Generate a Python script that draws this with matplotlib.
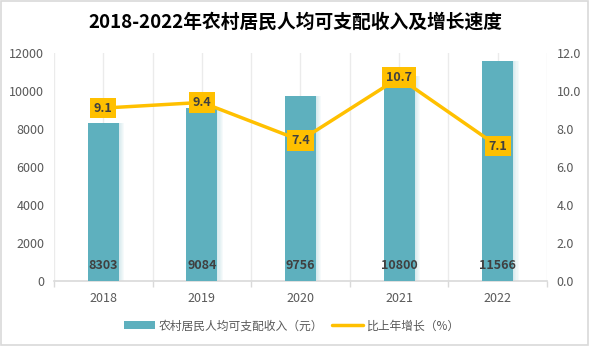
import numpy as np
import matplotlib
matplotlib.use('Agg')
import matplotlib.pyplot as plt
import matplotlib.transforms as mtransforms
from matplotlib.patches import Rectangle
from matplotlib.ticker import FuncFormatter

plt.rcParams['font.family'] = ['Noto Sans CJK SC', 'DejaVu Sans']

years = ['2018', '2019', '2020', '2021', '2022']
income = [8303, 9084, 9756, 10800, 11566]
growth = [9.1, 9.4, 7.4, 10.7, 7.1]
income_name = '农村居民人均可支配收入（元）'
growth_name = '比上年增长（%）'
title = '2018-2022年农村居民人均可支配收入及增长速度'

bar_color = '#5EB0BE'
line_color = '#FFC000'
text_gray = '#595959'
grid_gray = '#EBEBEB'

fig = plt.figure(figsize=(5.9, 3.55), dpi=100)
fig.patches.append(Rectangle((0.002, 0.028), 0.994, 0.97, transform=fig.transFigure,
                             fill=False, edgecolor='#D9D9D9', linewidth=1.2))

ax = fig.add_axes([0.0915, 0.2085, 0.8355, 0.6422])
x = np.arange(len(years))
w = 0.315

# soft shadow on the right of each bar
for k in range(1, 6):
    ax.bar(x + 0.011 * k, income, w, color=bar_color, alpha=0.05, linewidth=0, zorder=2)
ax.bar(x, income, w, color=bar_color, linewidth=0, zorder=3, label=income_name)

ax.set_xlim(-0.5, len(years) - 0.5)
ax.set_ylim(0, 12000)
ax.set_yticks(np.arange(0, 12001, 2000))
ax.set_xticks(x)
ax.set_xticklabels(years)
ax.set_xticks(np.arange(-0.5, len(years), 1.0), minor=True)
ax.tick_params(axis='x', which='major', length=0, pad=8, labelsize=9, labelcolor=text_gray)
ax.tick_params(axis='x', which='minor', length=4, color='#D9D9D9', width=1)
ax.tick_params(axis='y', length=0, pad=7, labelsize=9, labelcolor=text_gray)
ax.grid(axis='x', which='both', color=grid_gray, linewidth=1, zorder=0)
ax.set_axisbelow(True)
for s in ['top', 'left', 'right']:
    ax.spines[s].set_visible(False)
ax.spines['bottom'].set_color('#D9D9D9')
ax.spines['bottom'].set_linewidth(1.2)

trans = mtransforms.blended_transform_factory(ax.transData, ax.transAxes)
for xi, v in zip(x, income):
    ax.text(xi, 0.066, str(v), transform=trans, ha='center', va='center',
            fontsize=9, fontweight='bold', color='#404040', zorder=5)

ax2 = ax.twinx()
ax2.plot(x, growth, color=line_color, linewidth=2.5, zorder=4, label=growth_name,
         solid_capstyle='round')
ax2.set_ylim(0, 12)
ax2.set_yticks(np.arange(0, 12.1, 2))
ax2.yaxis.set_major_formatter(FuncFormatter(lambda v, p: '%.1f' % v))
ax2.tick_params(axis='y', length=0, pad=7, labelsize=9, labelcolor=text_gray)
for s in ax2.spines.values():
    s.set_visible(False)
for xi, g in zip(x, growth):
    ax2.text(xi, g, '%.1f' % g, ha='center', va='center', fontsize=9, fontweight='bold',
             color='#404040', zorder=6,
             bbox=dict(boxstyle='square,pad=0.3', facecolor=line_color, edgecolor='none'))

fig.text(0.5, 0.938, title, ha='center', va='center', fontsize=13.5, fontweight='bold',
         color='#000000')

h1, l1 = ax.get_legend_handles_labels()
h2, l2 = ax2.get_legend_handles_labels()
leg = fig.legend(h1 + h2, l1 + l2, loc='center', bbox_to_anchor=(0.495, 0.082), ncol=2,
                 frameon=False, fontsize=8.5, handlelength=2.6, handleheight=0.7,
                 handletextpad=0.3, columnspacing=0.8, labelcolor=text_gray)

fig.savefig('out.png', dpi=100)
